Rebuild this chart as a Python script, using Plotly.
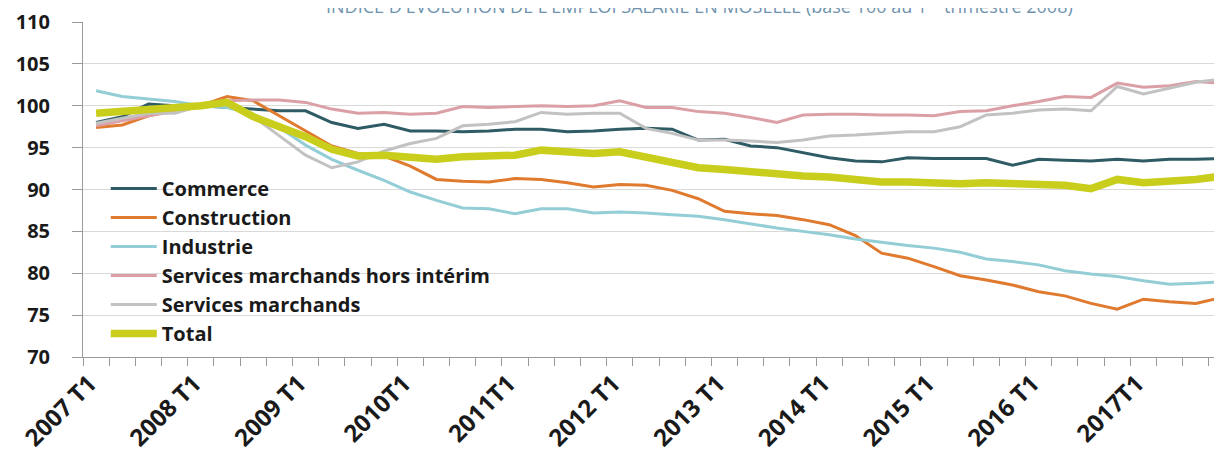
import plotly.graph_objects as go

quarters = [f"{y} T{q}" for y in range(2007, 2018) for q in range(1, 5)]
tick_labels = ["2007 T1", "2008 T1", "2009 T1", "2010T1", "2011T1", "2012 T1",
               "2013 T1", "2014 T1", "2015 T1", "2016 T1", "2017T1"]

commerce = [98.0, 98.7, 100.2, 100.0, 100.0, 99.8, 99.6, 99.4, 99.4, 98.0, 97.3, 97.8,
            97.0, 97.0, 96.9, 97.0, 97.2, 97.2, 96.9, 97.0, 97.2, 97.3, 97.2, 95.9,
            96.0, 95.2, 95.0, 94.4, 93.8, 93.4, 93.3, 93.8, 93.7, 93.7, 93.7, 92.9,
            93.6, 93.5, 93.4, 93.6, 93.4, 93.6, 93.6, 93.7]
construction = [97.4, 97.7, 98.8, 99.5, 100.0, 101.1, 100.6, 98.8, 97.1, 95.2, 94.3, 94.0,
                92.8, 91.2, 91.0, 90.9, 91.3, 91.2, 90.8, 90.3, 90.6, 90.5, 89.9, 88.9,
                87.4, 87.1, 86.9, 86.4, 85.8, 84.5, 82.4, 81.8, 80.8, 79.7, 79.2, 78.6,
                77.8, 77.3, 76.4, 75.7, 76.9, 76.6, 76.4, 77.1]
industrie = [101.8, 101.1, 100.8, 100.5, 100.0, 99.8, 99.0, 97.4, 95.3, 93.6, 92.3, 91.1,
             89.7, 88.7, 87.8, 87.7, 87.1, 87.7, 87.7, 87.2, 87.3, 87.2, 87.0, 86.8,
             86.4, 85.9, 85.4, 85.0, 84.6, 84.1, 83.7, 83.3, 83.0, 82.5, 81.7, 81.4,
             81.0, 80.3, 79.9, 79.6, 79.1, 78.7, 78.8, 79.0]
services_hors_interim = [97.6, 98.2, 98.8, 99.3, 100.0, 100.6, 100.7, 100.7, 100.4, 99.6, 99.1, 99.2,
                         99.0, 99.1, 99.9, 99.8, 99.9, 100.0, 99.9, 100.0, 100.6, 99.8, 99.8, 99.3,
                         99.1, 98.6, 98.0, 98.9, 99.0, 99.0, 98.9, 98.9, 98.8, 99.3, 99.4, 100.0,
                         100.5, 101.1, 101.0, 102.7, 102.2, 102.4, 102.9, 102.7]
services_marchands = [97.9, 98.5, 99.1, 99.1, 100.0, 100.3, 98.7, 96.4, 94.1, 92.6, 93.3, 94.6,
                      95.5, 96.1, 97.6, 97.8, 98.1, 99.2, 99.0, 99.1, 99.1, 97.3, 96.7, 95.9,
                      95.9, 95.8, 95.6, 95.9, 96.4, 96.5, 96.7, 96.9, 96.9, 97.5, 98.9, 99.1,
                      99.5, 99.6, 99.4, 102.3, 101.4, 102.1, 102.8, 103.2]
total = [99.1, 99.3, 99.7, 99.8, 100.0, 100.4, 98.7, 97.5, 96.3, 94.8, 94.0, 94.1,
         93.8, 93.6, 93.9, 94.0, 94.1, 94.7, 94.5, 94.3, 94.5, 93.8, 93.3, 92.6,
         92.4, 92.1, 91.8, 91.6, 91.5, 91.2, 90.9, 90.9, 90.7, 90.7, 90.8, 90.7,
         90.7, 90.5, 90.1, 91.2, 90.8, 90.9, 91.2, 91.6]

series = [
    ("Commerce", commerce, "#2e5b64", 3),
    ("Construction", construction, "#df7a2f", 3),
    ("Industrie", industrie, "#93cdd6", 3),
    ("Services marchands hors intérim", services_hors_interim, "#dba0a6", 3),
    ("Services marchands", services_marchands, "#c2c2c2", 3),
    ("Total", total, "#c9cd1c", 7.5),
]

idx = list(range(len(quarters)))
fig = go.Figure()
for name, vals, color, w in series:
    fig.add_trace(go.Scatter(x=idx, y=vals, mode="lines", name=name,
                             line=dict(color=color, width=w),
                             customdata=quarters,
                             hovertemplate="%{customdata}: %{y}<extra>" + name + "</extra>"))

font_family = "Open Sans, DejaVu Sans, sans-serif"
fig.update_layout(
    width=1222, height=454,
    margin=dict(l=75, r=8, t=14, b=105, autoexpand=False),
    paper_bgcolor="white", plot_bgcolor="white",
    font=dict(family=font_family, color="#1a1a1a"),
    showlegend=True,
    legend=dict(x=0.020, y=0.561, xanchor="left", yanchor="top",
                bgcolor="rgba(0,0,0,0)", tracegroupgap=0, itemwidth=46,
                font=dict(size=20, family=font_family, color="#1a1a1a", weight="bold")),
    xaxis=dict(range=[-0.5, 43.0], tickmode="array", automargin=False,
               tickvals=[i * 4 - 0.25 for i in range(len(tick_labels))], ticktext=tick_labels,
               tickangle=-45, ticks="", showgrid=False, zeroline=False,
               showline=True, linecolor="#9a9a9a", linewidth=1, ticklabelstandoff=2,
               tickfont=dict(size=24, family=font_family, color="#1a1a1a", weight="bold"),
               minor=dict(tickmode="linear", tick0=-0.5, dtick=1, ticks="outside",
                          ticklen=8, tickcolor="#9a9a9a", tickwidth=1, showgrid=False)),
    yaxis=dict(range=[70, 110], dtick=5, tick0=70, showgrid=True, gridcolor="#d9d9d9",
               gridwidth=1, zeroline=False, showline=True, linecolor="#9a9a9a",
               ticks="outside", ticklen=10, tickcolor="#9a9a9a", automargin=False,
               ticklabelstandoff=18,
               tickfont=dict(size=20, family=font_family, color="#1a1a1a", weight="bold")),
)

fig.add_annotation(
    text="INDICE D'ÉVOLUTION DE L'EMPLOI SALARIÉ EN MOSELLE (base 100 au 1<sup>er</sup> trimestre 2008)",
    xref="paper", yref="paper", x=(699 - 83) / 1139, y=1 + 17 / 335,
    xanchor="center", yanchor="middle", showarrow=False,
    font=dict(size=18, family=font_family, color="#6f93ae"))

fig.write_html("out.html")
